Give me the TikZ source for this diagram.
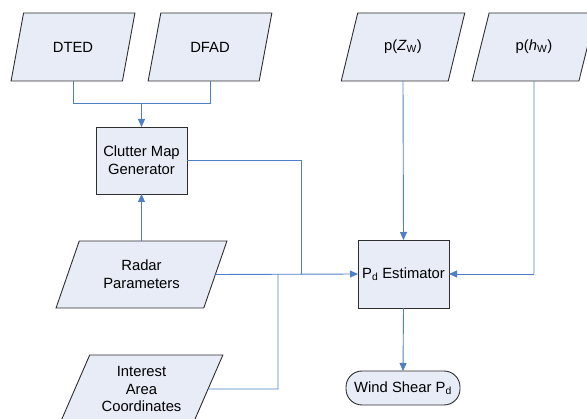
\documentclass[tikz,border=0pt]{standalone}
\usepackage{fontspec}
\setmainfont{Liberation Sans}
\usetikzlibrary{shapes.geometric,arrows.meta}
\definecolor{boxfill}{HTML}{E7ECF6}
\definecolor{boxline}{HTML}{2E2E2E}
\definecolor{conn}{HTML}{4F7FC6}
\tikzset{
  every node/.style={font=\fontsize{14.8}{17.6}\selectfont, align=center, inner sep=0pt, outer sep=0pt},
  databox/.style={trapezium, trapezium left angle=63.43, trapezium right angle=116.57,
    trapezium stretches=true, draw=boxline, fill=boxfill, line width=0.9pt,
    minimum height=68pt},
  procbox/.style={rectangle, draw=boxline, fill=boxfill, line width=0.9pt},
  termbox/.style={rectangle, rounded corners=16pt, draw=boxline, fill=boxfill, line width=0.9pt,
    minimum width=114pt, minimum height=34pt},
  link/.style={draw=conn, line width=0.9pt},
  arrowlink/.style={link, -{Triangle[length=8pt,width=7pt]}}
}
\begin{document}
\begin{tikzpicture}[x=1pt,y=-1pt]
\useasboundingbox (0,0) rectangle (587,419);
% data inputs
\node[databox, minimum width=124pt] (dted) at (73,47) {DTED};
\node[databox, minimum width=124pt] (dfad) at (210,47) {DFAD};
\node[databox, minimum width=124pt] (pzw) at (403,47) {p(\textit{Z}\textsubscript{W})};
\node[databox, minimum width=124pt] (phw) at (534,47) {p(\textit{h}\textsubscript{W})};
\node[databox, minimum width=171pt, minimum height=67pt] (radar) at (141.5,274.5) {Radar\\Parameters};
\node[databox, minimum width=163pt] (area) at (141.5,389) {Interest\\Area\\Coordinates};
% processes
\node[procbox, minimum width=91pt, minimum height=67pt] (clutter) at (141.5,160.5) {Clutter Map\\Generator};
\node[procbox, minimum width=91pt, minimum height=68pt] (pd) at (403.5,274) {P\textsubscript{d} Estimator};
\node[termbox] (wind) at (403,388) {Wind Shear P\textsubscript{d}};
% junction coordinates
\coordinate (mergeTop) at (141.5,103);
\coordinate (jClutter) at (301,160.5);
\coordinate (jArea) at (278,389);
\coordinate (jPhw) at (534,274);
% connectors
\draw[link] (dted.south) |- (mergeTop);
\draw[link] (dfad.south) |- (mergeTop);
\draw[arrowlink] (mergeTop) -- (clutter.north);
\draw[arrowlink] (radar.north) -- (clutter.south);
\draw[link] (clutter.east) -- (jClutter) -- (jClutter |- radar.east);
\draw[arrowlink] (radar.east) -- (pd.west);
\draw[link] (area.east) -- (jArea) -- (jArea |- radar.east);
\draw[arrowlink] (pzw.south) -- (pd.north);
\draw[link] (phw.south) -- (jPhw);
\draw[arrowlink] (jPhw) -- (pd.east);
\draw[arrowlink] (pd.south) -- (wind.north);
\end{tikzpicture}
\end{document}
